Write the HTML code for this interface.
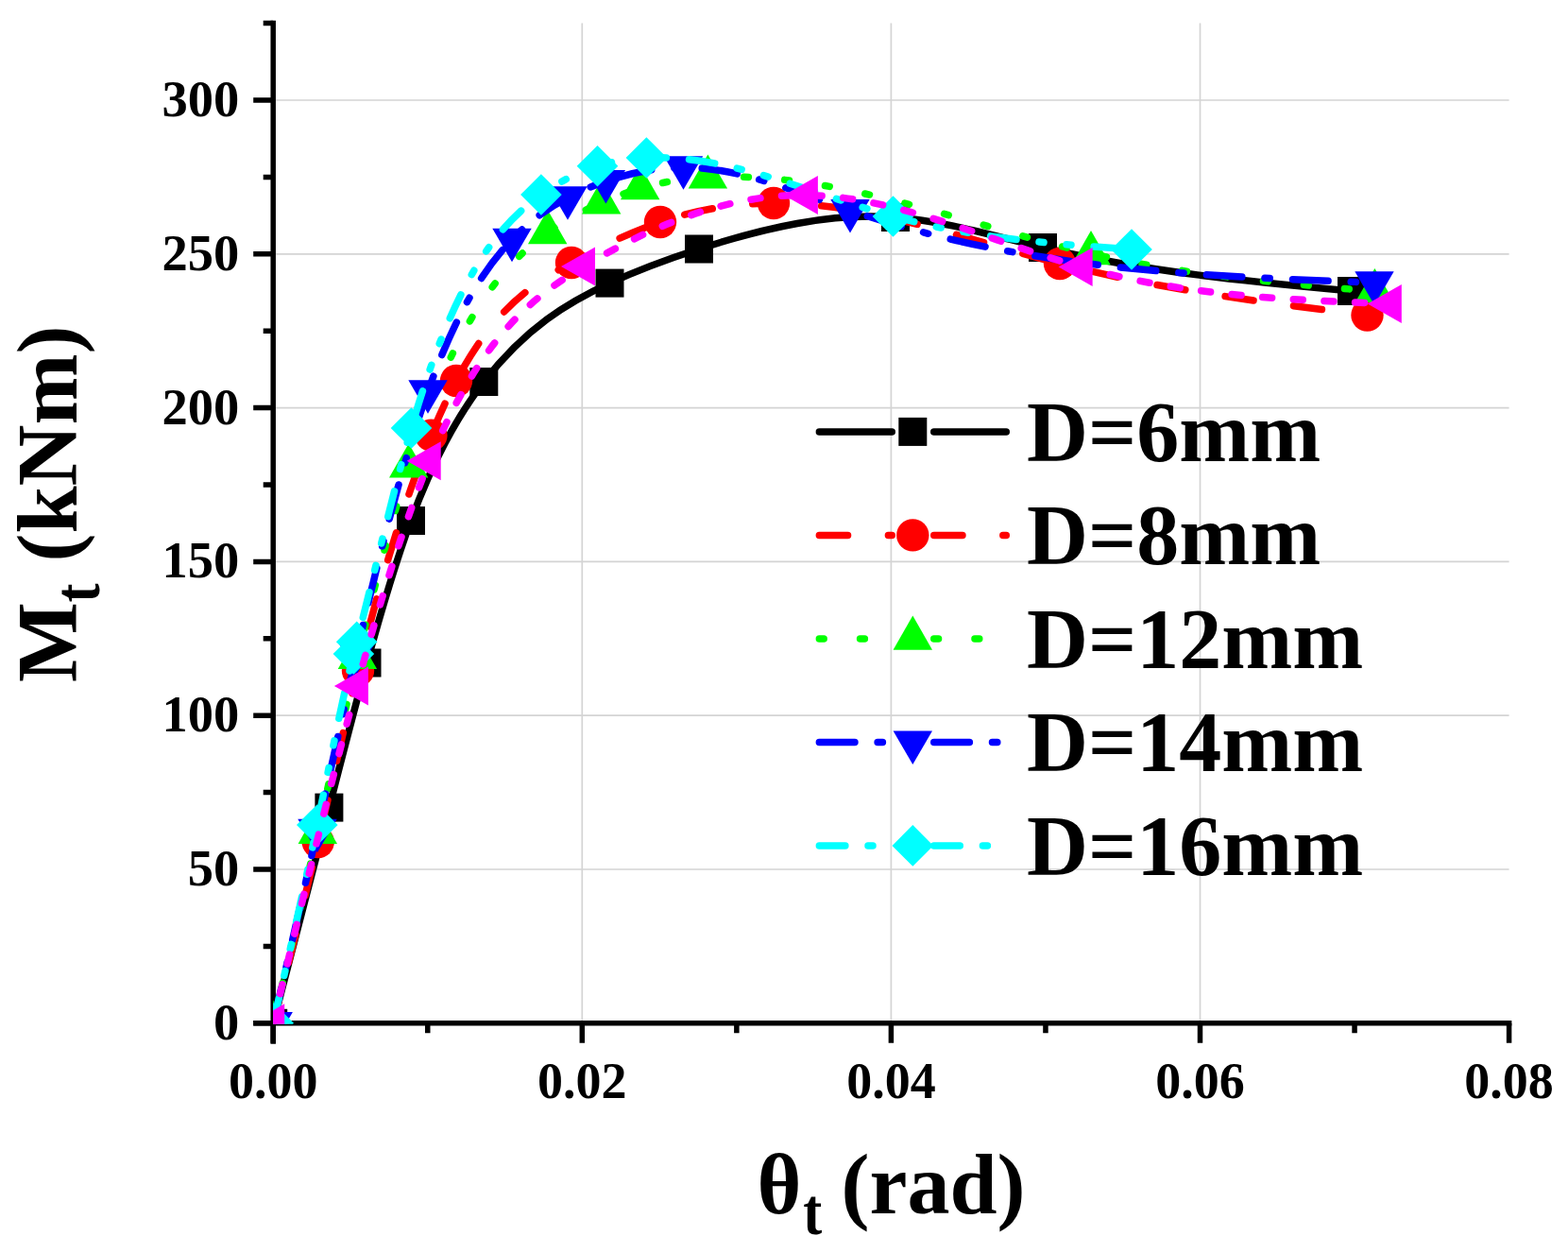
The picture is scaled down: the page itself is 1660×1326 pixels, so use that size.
<!DOCTYPE html>
<html><head><meta charset="utf-8"><title>Mt vs theta</title>
<style>html,body{margin:0;padding:0;background:#fff;}svg{display:block;}text{font-family:"Liberation Serif","Times New Roman",serif;font-weight:bold;fill:#000;}</style></head><body>
<svg width="1660" height="1326" viewBox="0 0 1660 1326">
<rect width="1660" height="1326" fill="#fff"/>
<defs><clipPath id="pa"><rect x="289.20" y="24.60" width="1312.40" height="1059.20"/></clipPath></defs>
<path d="M616.30,24.60V1082.80 M943.40,24.60V1082.80 M1270.50,24.60V1082.80 M289.20,920.00H1597.60 M289.20,757.20H1597.60 M289.20,594.40H1597.60 M289.20,431.60H1597.60 M289.20,268.80H1597.60 M289.20,106.00H1597.60" stroke="#d4d4d4" stroke-width="1.7" fill="none"/>
<path d="M289.20,21.85V1104.80" stroke="#000" stroke-width="5.50" fill="none"/>
<path d="M268.20,1082.80H1600.35" stroke="#000" stroke-width="5.50" fill="none"/>
<path d="M268.20,1082.80H289.20 M278.70,1001.40H289.20 M268.20,920.00H289.20 M278.70,838.60H289.20 M268.20,757.20H289.20 M278.70,675.80H289.20 M268.20,594.40H289.20 M278.70,513.00H289.20 M268.20,431.60H289.20 M278.70,350.20H289.20 M268.20,268.80H289.20 M278.70,187.40H289.20 M268.20,106.00H289.20 M278.70,24.60H289.20 M289.20,1082.80V1103.80 M452.75,1082.80V1093.30 M616.30,1082.80V1103.80 M779.85,1082.80V1093.30 M943.40,1082.80V1103.80 M1106.95,1082.80V1093.30 M1270.50,1082.80V1103.80 M1434.05,1082.80V1093.30 M1597.60,1082.80V1103.80" stroke="#000" stroke-width="5.50" fill="none"/>
<g clip-path="url(#pa)">
<path d="M289.20,1082.80 C308.93,1007.04 328.67,931.29 348.40,854.60 C361.77,802.66 375.13,750.29 388.50,701.50 C404.00,644.93 419.50,593.17 435.00,551.00 C460.77,480.89 486.53,437.27 512.30,404.00 C556.70,346.67 601.10,320.06 645.50,299.60 C677.00,285.08 708.50,273.66 740.00,263.50 C809.33,241.13 878.67,224.88 948.00,230.00 C1000.00,233.84 1052.00,249.70 1104.00,262.00 C1213.00,287.78 1322.00,297.89 1431.00,308.00" stroke="#000000" stroke-width="7.5" fill="none" stroke-linecap="round" stroke-linejoin="round"/>
<rect x="274.20" y="1067.80" width="30" height="30" fill="#000000"/>
<rect x="333.40" y="839.60" width="30" height="30" fill="#000000"/>
<rect x="373.50" y="686.50" width="30" height="30" fill="#000000"/>
<rect x="420.00" y="536.00" width="30" height="30" fill="#000000"/>
<rect x="497.30" y="389.00" width="30" height="30" fill="#000000"/>
<rect x="630.50" y="284.60" width="30" height="30" fill="#000000"/>
<rect x="725.00" y="248.50" width="30" height="30" fill="#000000"/>
<rect x="933.00" y="215.00" width="30" height="30" fill="#000000"/>
<rect x="1089.00" y="247.00" width="30" height="30" fill="#000000"/>
<rect x="1416.00" y="293.00" width="30" height="30" fill="#000000"/>
</g>
<g clip-path="url(#pa)">
<path d="M289.20,1082.80 C305.03,1020.59 320.87,958.37 336.70,891.00 C350.80,831.00 364.90,766.91 379.00,709.70 C404.80,605.02 430.60,523.39 456.40,460.70 C465.27,439.16 474.13,419.85 483.00,403.00 C523.67,325.73 564.33,300.24 605.00,278.00 C636.33,260.87 667.67,245.67 699.00,235.00 C739.00,221.38 779.00,215.15 819.00,215.00 C920.00,214.63 1021.00,253.10 1122.00,279.00 C1230.50,306.83 1339.00,320.16 1447.50,333.50" stroke="#ff0000" stroke-width="7.5" fill="none" stroke-linecap="round" stroke-linejoin="round" stroke-dasharray="30.200 42.870" stroke-dashoffset="6.57"/>
<circle cx="289.20" cy="1082.80" r="17.2" fill="#ff0000"/>
<circle cx="336.70" cy="891.00" r="17.2" fill="#ff0000"/>
<circle cx="379.00" cy="709.70" r="17.2" fill="#ff0000"/>
<circle cx="456.40" cy="460.70" r="17.2" fill="#ff0000"/>
<circle cx="483.00" cy="403.00" r="17.2" fill="#ff0000"/>
<circle cx="605.00" cy="278.00" r="17.2" fill="#ff0000"/>
<circle cx="699.00" cy="235.00" r="17.2" fill="#ff0000"/>
<circle cx="819.00" cy="215.00" r="17.2" fill="#ff0000"/>
<circle cx="1122.00" cy="279.00" r="17.2" fill="#ff0000"/>
<circle cx="1447.50" cy="333.50" r="17.2" fill="#ff0000"/>
</g>
<g clip-path="url(#pa)">
<path d="M289.20,1082.80 C304.90,1016.39 320.60,949.99 336.30,881.00 C350.33,819.34 364.37,755.61 378.40,696.20 C396.50,619.57 414.60,550.11 432.70,493.50 C481.70,340.24 530.70,281.11 579.70,246.30 C598.70,232.80 617.70,222.97 636.70,214.60 C650.37,208.58 664.03,203.33 677.70,199.30 C701.60,192.26 725.50,188.98 749.40,187.70 C884.60,180.48 1019.80,237.45 1155.00,268.30 C1255.13,291.15 1355.27,299.68 1455.40,308.20" stroke="#00ff00" stroke-width="7.5" fill="none" stroke-linecap="round" stroke-linejoin="round" stroke-dasharray="4.800 38.420" stroke-dashoffset="4.35"/>
<polygon points="289.20,1058.50 268.50,1094.70 309.90,1094.70" fill="#00ff00"/>
<polygon points="336.30,856.70 315.60,892.90 357.00,892.90" fill="#00ff00"/>
<polygon points="378.40,671.90 357.70,708.10 399.10,708.10" fill="#00ff00"/>
<polygon points="432.70,469.20 412.00,505.40 453.40,505.40" fill="#00ff00"/>
<polygon points="579.70,222.00 559.00,258.20 600.40,258.20" fill="#00ff00"/>
<polygon points="636.70,190.30 616.00,226.50 657.40,226.50" fill="#00ff00"/>
<polygon points="677.70,175.00 657.00,211.20 698.40,211.20" fill="#00ff00"/>
<polygon points="749.40,163.40 728.70,199.60 770.10,199.60" fill="#00ff00"/>
<polygon points="1155.00,244.00 1134.30,280.20 1175.70,280.20" fill="#00ff00"/>
<polygon points="1455.40,283.90 1434.70,320.10 1476.10,320.10" fill="#00ff00"/>
</g>
<g clip-path="url(#pa)">
<path d="M289.20,1082.80 C304.80,1015.78 320.40,948.77 336.00,878.60 C349.93,815.93 363.87,750.75 377.80,689.80 C402.87,580.15 427.93,484.19 453.00,414.10 C482.67,331.15 512.33,284.44 542.00,253.50 C561.67,232.99 581.33,219.41 601.00,209.10 C614.47,202.04 627.93,196.51 641.40,191.90 C668.77,182.54 696.13,176.99 723.50,177.00 C782.33,177.02 841.17,202.70 900.00,222.70 C1085.00,285.60 1270.00,292.35 1455.00,299.10" stroke="#0000ff" stroke-width="7.5" fill="none" stroke-linecap="round" stroke-linejoin="round" stroke-dasharray="37.600 24.150 5.300 24.280" stroke-dashoffset="0.60"/>
<polygon points="289.20,1106.50 268.50,1071.00 309.90,1071.00" fill="#0000ff"/>
<polygon points="336.00,902.30 315.30,866.80 356.70,866.80" fill="#0000ff"/>
<polygon points="377.80,713.50 357.10,678.00 398.50,678.00" fill="#0000ff"/>
<polygon points="453.00,437.80 432.30,402.30 473.70,402.30" fill="#0000ff"/>
<polygon points="542.00,277.20 521.30,241.70 562.70,241.70" fill="#0000ff"/>
<polygon points="601.00,232.80 580.30,197.30 621.70,197.30" fill="#0000ff"/>
<polygon points="641.40,215.60 620.70,180.10 662.10,180.10" fill="#0000ff"/>
<polygon points="723.50,200.70 702.80,165.20 744.20,165.20" fill="#0000ff"/>
<polygon points="900.00,246.40 879.30,210.90 920.70,210.90" fill="#0000ff"/>
<polygon points="1455.00,322.80 1434.30,287.30 1475.70,287.30" fill="#0000ff"/>
</g>
<g clip-path="url(#pa)">
<path d="M289.20,1082.80 C304.73,1015.55 320.27,948.29 335.80,873.00 C348.67,810.63 361.53,742.75 374.40,692.00 C375.50,687.66 376.60,683.45 377.70,679.20 C396.97,604.80 416.23,519.77 435.50,453.00 C481.30,294.27 527.10,238.66 572.90,206.00 C592.77,191.83 612.63,181.99 632.50,175.80 C649.80,170.41 667.10,167.79 684.40,167.00 C771.43,163.01 858.47,205.15 945.50,229.00 C1029.67,252.07 1113.83,258.03 1198.00,264.00" stroke="#00ffff" stroke-width="7.5" fill="none" stroke-linecap="round" stroke-linejoin="round" stroke-dasharray="27.500 24.150 5.000 24.150 5.000 24.170" stroke-dashoffset="0.00"/>
<polygon points="289.20,1061.00 311.00,1082.80 289.20,1104.60 267.40,1082.80" fill="#00ffff"/>
<polygon points="335.80,851.20 357.60,873.00 335.80,894.80 314.00,873.00" fill="#00ffff"/>
<polygon points="374.40,670.20 396.20,692.00 374.40,713.80 352.60,692.00" fill="#00ffff"/>
<polygon points="377.70,657.40 399.50,679.20 377.70,701.00 355.90,679.20" fill="#00ffff"/>
<polygon points="435.50,431.20 457.30,453.00 435.50,474.80 413.70,453.00" fill="#00ffff"/>
<polygon points="572.90,184.20 594.70,206.00 572.90,227.80 551.10,206.00" fill="#00ffff"/>
<polygon points="632.50,154.00 654.30,175.80 632.50,197.60 610.70,175.80" fill="#00ffff"/>
<polygon points="684.40,145.20 706.20,167.00 684.40,188.80 662.60,167.00" fill="#00ffff"/>
<polygon points="945.50,207.20 967.30,229.00 945.50,250.80 923.70,229.00" fill="#00ffff"/>
<polygon points="1198.00,242.20 1219.80,264.00 1198.00,285.80 1176.20,264.00" fill="#00ffff"/>
</g>
<g clip-path="url(#pa)">
<path d="M289.20,1082.80 C318.77,958.66 348.33,834.51 377.90,726.00 C403.50,632.04 429.10,549.81 454.70,487.70 C509.13,355.64 563.57,314.60 618.00,282.00 C696.63,234.91 775.27,205.42 853.90,206.50 C950.80,207.83 1047.70,255.56 1144.60,282.60 C1253.67,313.04 1362.73,317.27 1471.80,321.50" stroke="#ff00ff" stroke-width="7.5" fill="none" stroke-linecap="round" stroke-linejoin="round" stroke-dasharray="10.000 22.689" stroke-dashoffset="0.74"/>
<polygon points="265.20,1082.80 301.20,1062.30 301.20,1103.30" fill="#ff00ff"/>
<polygon points="353.90,726.00 389.90,705.50 389.90,746.50" fill="#ff00ff"/>
<polygon points="430.70,487.70 466.70,467.20 466.70,508.20" fill="#ff00ff"/>
<polygon points="594.00,282.00 630.00,261.50 630.00,302.50" fill="#ff00ff"/>
<polygon points="829.90,206.50 865.90,186.00 865.90,227.00" fill="#ff00ff"/>
<polygon points="1120.60,282.60 1156.60,262.10 1156.60,303.10" fill="#ff00ff"/>
<polygon points="1447.80,321.50 1483.80,301.00 1483.80,342.00" fill="#ff00ff"/>
</g>
<path d="M867.35,456.90H944.25" stroke="#000000" stroke-width="7.5" stroke-linecap="round" fill="none"/>
<path d="M988.75,456.90H1065.25" stroke="#000000" stroke-width="7.5" stroke-linecap="round" fill="none"/>
<rect x="951.30" y="441.90" width="30" height="30" fill="#000000"/>
<text x="1087" y="487.50" font-size="90">D=6mm</text>
<path d="M867.35,566.40H944.25" stroke="#ff0000" stroke-width="7.5" stroke-linecap="round" fill="none" stroke-dasharray="30.200 42.870"/>
<path d="M988.75,566.40H1065.25" stroke="#ff0000" stroke-width="7.5" stroke-linecap="round" fill="none" stroke-dasharray="30.200 42.870"/>
<circle cx="966.30" cy="566.40" r="17.2" fill="#ff0000"/>
<text x="1087" y="597.00" font-size="90">D=8mm</text>
<path d="M867.35,675.90H944.25" stroke="#00ff00" stroke-width="7.5" stroke-linecap="round" fill="none" stroke-dasharray="4.800 38.420"/>
<path d="M988.75,675.90H1065.25" stroke="#00ff00" stroke-width="7.5" stroke-linecap="round" fill="none" stroke-dasharray="4.800 38.420"/>
<polygon points="966.30,651.60 945.60,687.80 987.00,687.80" fill="#00ff00"/>
<text x="1087" y="706.50" font-size="90">D=12mm</text>
<path d="M867.35,785.40H944.25" stroke="#0000ff" stroke-width="7.5" stroke-linecap="round" fill="none" stroke-dasharray="37.600 24.150 5.300 24.280"/>
<path d="M988.75,785.40H1065.25" stroke="#0000ff" stroke-width="7.5" stroke-linecap="round" fill="none" stroke-dasharray="37.600 24.150 5.300 24.280"/>
<polygon points="966.30,809.10 945.60,773.60 987.00,773.60" fill="#0000ff"/>
<text x="1087" y="816.00" font-size="90">D=14mm</text>
<path d="M867.35,894.90H944.25" stroke="#00ffff" stroke-width="7.5" stroke-linecap="round" fill="none" stroke-dasharray="27.500 24.150 5.000 24.150 5.000 24.170"/>
<path d="M988.75,894.90H1065.25" stroke="#00ffff" stroke-width="7.5" stroke-linecap="round" fill="none" stroke-dasharray="27.500 24.150 5.000 24.150 5.000 24.170"/>
<polygon points="966.30,873.10 988.10,894.90 966.30,916.70 944.50,894.90" fill="#00ffff"/>
<text x="1087" y="925.50" font-size="90">D=16mm</text>
<text x="253.3" y="1099.80" font-size="54.5" text-anchor="end">0</text>
<text x="253.3" y="937.00" font-size="54.5" text-anchor="end">50</text>
<text x="253.3" y="774.20" font-size="54.5" text-anchor="end">100</text>
<text x="253.3" y="611.40" font-size="54.5" text-anchor="end">150</text>
<text x="253.3" y="448.60" font-size="54.5" text-anchor="end">200</text>
<text x="253.3" y="285.80" font-size="54.5" text-anchor="end">250</text>
<text x="253.3" y="123.00" font-size="54.5" text-anchor="end">300</text>
<text x="289.20" y="1161.6" font-size="54" text-anchor="middle">0.00</text>
<text x="616.30" y="1161.6" font-size="54" text-anchor="middle">0.02</text>
<text x="943.40" y="1161.6" font-size="54" text-anchor="middle">0.04</text>
<text x="1270.50" y="1161.6" font-size="54" text-anchor="middle">0.06</text>
<text x="1597.60" y="1161.6" font-size="54" text-anchor="middle">0.08</text>
<text x="801.5" y="1284" font-size="90">θ</text>
<text transform="translate(850.2,1306) scale(1,1.16)" x="0" y="0" font-size="60">t</text>
<text x="890.5" y="1284" font-size="90">(rad)</text>
<text transform="translate(80.9,722) rotate(-90)" x="0" y="0" font-size="90">M</text>
<text transform="translate(105.2,637.5) rotate(-90) scale(1,1.16)" x="0" y="0" font-size="60">t</text>
<text transform="translate(80.9,594.5) rotate(-90)" x="0" y="0" font-size="90">(kNm)</text>
</svg>
</body></html>
